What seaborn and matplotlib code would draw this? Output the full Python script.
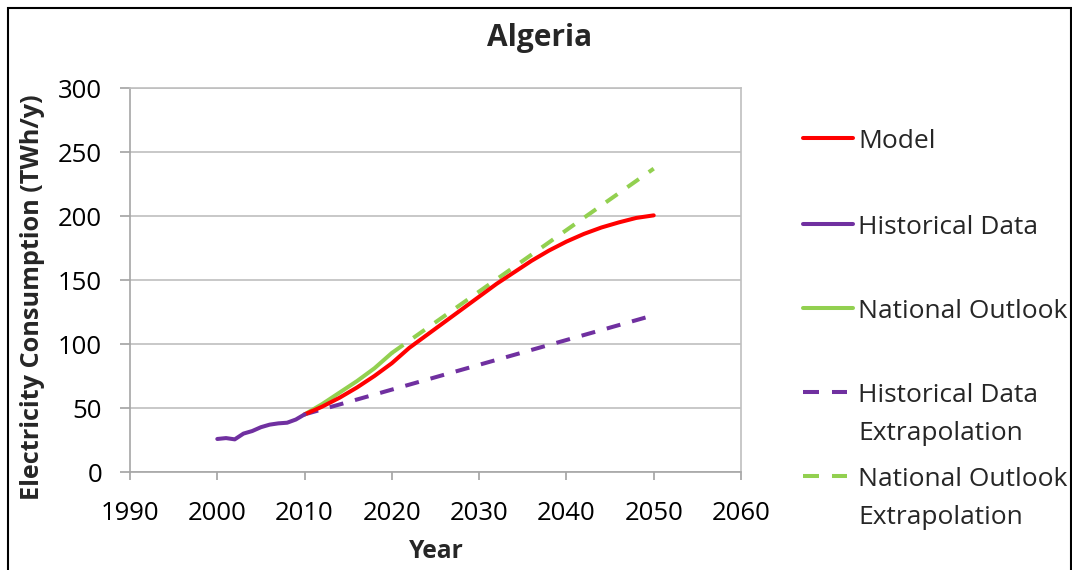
import matplotlib
matplotlib.use("Agg")
import matplotlib.pyplot as plt
import seaborn as sns
from matplotlib.lines import Line2D
from matplotlib.patches import Rectangle

hist_years = [2000, 2001, 2002, 2003, 2004, 2005, 2006, 2007, 2008, 2009, 2010]
hist_values = [25.8, 26.5, 25.5, 30, 32, 35, 37, 38, 38.5, 41, 45]

model_years = [2010, 2012, 2014, 2016, 2018, 2020, 2022, 2024, 2026, 2028, 2030,
               2032, 2034, 2036, 2038, 2040, 2042, 2044, 2046, 2048, 2050]
model_values = [45, 51, 58, 66, 75, 85, 97, 107, 117, 127, 137,
                147, 156, 165, 173, 180, 186, 191, 195, 198.5, 200.5]

outlook_years = [2010, 2012, 2014, 2016, 2018, 2020]
outlook_values = [45, 53, 62, 71, 81, 93]

hist_ext_years = [2010, 2050]
hist_ext_values = [45, 122.5]

outlook_ext_years = [2020, 2050]
outlook_ext_values = [93, 237]

labels = ["Model", "Historical Data", "National Outlook",
          "Historical Data\nExtrapolation", "National Outlook\nExtrapolation"]

sns.set_theme(style="white")
plt.rcParams['font.family'] = ['Open Sans', 'DejaVu Sans']

RED = "#ff0000"
PURPLE = "#7030a0"
GREEN = "#92d050"
DASH = [3.5, 3]
LW = 2.9

W, H = 1072, 570
def fx(x):
    return x / W
def fy(y):
    return 1 - y / H

fig = plt.figure(figsize=(10.72, 5.7), dpi=100)
ax = fig.add_axes([fx(130), fy(472), (741 - 130) / W, (472 - 88) / H])

sns.lineplot(x=hist_ext_years, y=hist_ext_values, ax=ax, color=PURPLE, lw=LW)
ax.lines[-1].set_dashes(DASH)
sns.lineplot(x=outlook_ext_years, y=outlook_ext_values, ax=ax, color=GREEN, lw=LW)
ax.lines[-1].set_dashes(DASH)
sns.lineplot(x=outlook_years, y=outlook_values, ax=ax, color=GREEN, lw=LW)
sns.lineplot(x=model_years, y=model_values, ax=ax, color=RED, lw=LW)
sns.lineplot(x=hist_years, y=hist_values, ax=ax, color=PURPLE, lw=LW)

ax.set_xlim(1990, 2060)
ax.set_ylim(0, 300)
ax.set_xticks(range(1990, 2061, 10))
ax.set_yticks(range(0, 301, 50))
ax.yaxis.grid(True, color="#bfbfbf", lw=1.2)
ax.xaxis.grid(False)
for s in ax.spines.values():
    s.set_color("#bfbfbf")
    s.set_linewidth(1.2)
ax.spines['bottom'].set_color("#a6a6a6")
ax.spines['left'].set_color("#a6a6a6")
ax.tick_params(axis='x', bottom=True, length=6, color="#a6a6a6", labelsize=18.5, pad=15)
ax.tick_params(axis='y', left=True, length=7, color="#a6a6a6", labelsize=18.5, pad=13)
for t in ax.get_xticklabels() + ax.get_yticklabels():
    t.set_color("#000000")

ax.set_xlabel("")
ax.set_ylabel("")
fig.text(fx(436), fy(552), "Year", ha="center", va="center",
         fontsize=17.7, fontweight="bold")
fig.text(fx(33), fy(297), "Electricity Consumption (TWh/y)", ha="center",
         va="center", rotation=90, fontsize=18.2, fontweight="bold")
fig.text(fx(540), fy(38), "Algeria", ha="center", va="center",
         fontsize=21.5, fontweight="bold")

# legend (drawn manually to match row placement)
legend_rows = [138, 224, 308, 392, 476]
legend_colors = [RED, PURPLE, GREEN, PURPLE, GREEN]
legend_dashed = [False, False, False, True, True]
for lab, yy, col, dashed in zip(labels, legend_rows, legend_colors, legend_dashed):
    if dashed:
        ln = Line2D([fx(803), fx(847)], [fy(yy), fy(yy)], transform=fig.transFigure,
                    color=col, lw=LW, dashes=[16 / 4.03, 13 / 4.03])
    else:
        ln = Line2D([fx(803), fx(853)], [fy(yy), fy(yy)], transform=fig.transFigure,
                    color=col, lw=LW)
    fig.add_artist(ln)
    for i, part in enumerate(lab.split("\n")):
        fig.text(fx(858), fy(yy + 38 * i), part, ha="left", va="center_baseline",
                 fontsize=19)

fig.patches.append(Rectangle((0.0075, -0.01), 0.9915, 0.996, transform=fig.transFigure,
                             fill=False, edgecolor="black", lw=1.5))

fig.savefig("out.png", dpi=100)
